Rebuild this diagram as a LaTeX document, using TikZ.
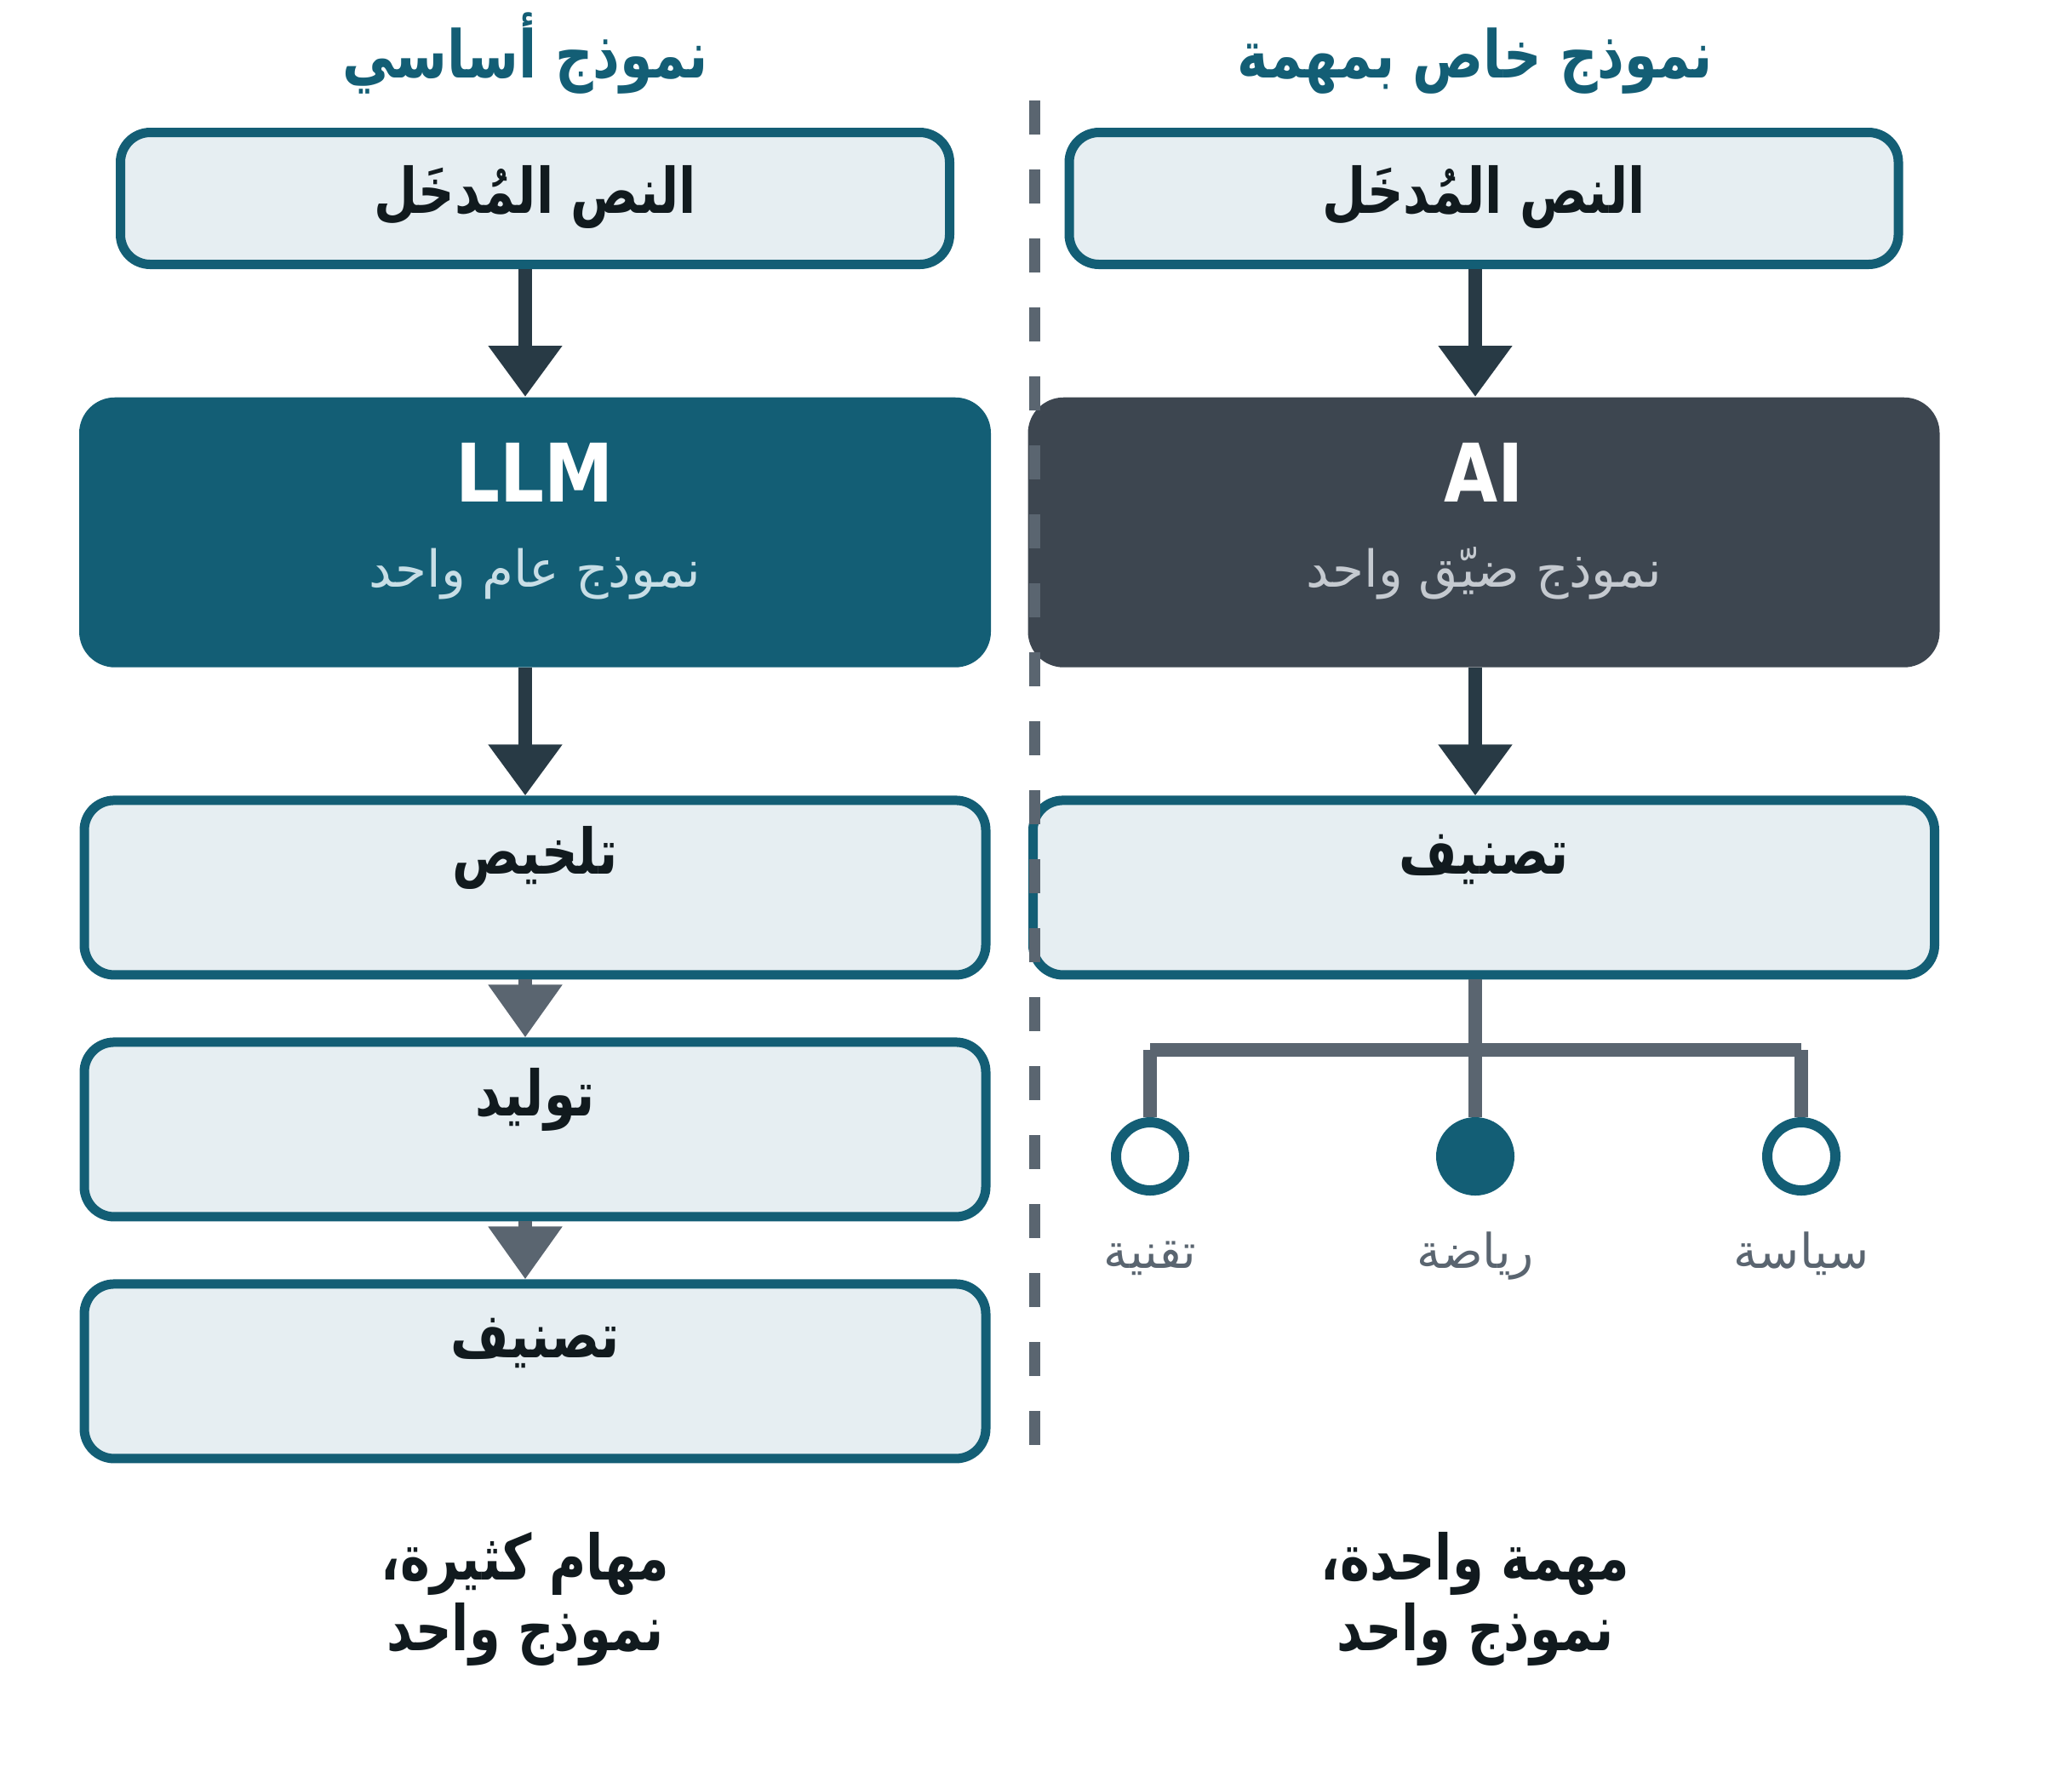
\documentclass[tikz,border=0pt]{standalone}
\usepackage{fontspec}
\setmainfont{DejaVu Sans}[BoldFeatures={FakeStretch=0.86}]
\newfontfamily\arabicfont[Script=Arabic, BoldFeatures={FakeStretch=0.8}]{DejaVu Sans}
\TeXXeTstate=1
\usetikzlibrary{positioning, arrows.meta}
\definecolor{deepteal}{HTML}{135E75}
\definecolor{paleblue}{HTML}{E6EEF2}
\definecolor{darkline}{HTML}{283A45}
\definecolor{slate}{HTML}{5A6570}
\definecolor{aibox}{HTML}{3D4650}
\definecolor{ink}{HTML}{111A1E}
\definecolor{llmsub}{HTML}{C8DEE6}
\definecolor{aisub}{HTML}{C5CAD0}
\newcommand{\artext}[1]{{\arabicfont\beginR #1\endR}}
\tikzset{
    inbox/.style   = {draw=deepteal, fill=paleblue, line width=0.11cm, rounded corners=0.35cm, minimum width=9.74cm, minimum height=1.55cm, inner sep=0pt, text=ink, font=\bfseries\fontsize{21}{25}\selectfont, text height=0.95cm, text depth=0.6cm},
    model/.style   = {rounded corners=0.42cm, minimum width=10.71cm, minimum height=3.17cm, inner sep=0pt, text=white, font=\bfseries\fontsize{27}{30}\selectfont, text height=1.23cm, text depth=1.94cm},
    task/.style    = {draw=deepteal, fill=paleblue, line width=0.11cm, rounded corners=0.35cm, minimum width=10.59cm, minimum height=2.05cm, inner sep=0pt, text=ink, font=\bfseries\fontsize{21}{25}\selectfont, text height=0.87cm, text depth=1.18cm},
    leaf/.style    = {circle, draw=deepteal, line width=0.12cm, fill=white, minimum size=0.8cm, inner sep=0pt},
    note/.style    = {font=\fontsize{17}{20}\selectfont, inner sep=0pt},
    heading/.style = {text=deepteal, font=\bfseries\fontsize{22}{26}\selectfont, inner sep=0pt},
    caption/.style = {text=ink, align=center, font=\bfseries\fontsize{21}{23.6}\selectfont, inner sep=0pt},
    tag/.style     = {text=slate, font=\fontsize{16}{19}\selectfont, inner sep=0pt},
    tip/.style     = {line width=0.16cm, draw=darkline, -{Triangle[width=0.83cm, length=0.6cm]}},
    softtip/.style = {line width=0.16cm, draw=slate, -{Triangle[width=0.83cm, length=0.62cm]}},
    branch/.style  = {line width=0.16cm, draw=slate},
    divider/.style = {line width=0.13cm, draw=slate, dash pattern=on 0.4cm off 0.41cm}
}

\begin{document}
\begin{tikzpicture}
    \useasboundingbox (0,0) rectangle (24.34,-21);
    \coordinate (colL) at (6.17,0);
    \coordinate (colR) at (17.33,0);
    % headings
    \node[heading, anchor=base] (headL) at (6.17,-0.91) {\artext{نموذج أساسي}};
    \node[heading, anchor=base] (headR) at (17.33,-0.91) {\artext{نموذج خاص بمهمة}};
    % left column
    \node[inbox] (inL) at (6.285,-2.33) {\artext{النص المُدخَل}};
    \node[model, fill=deepteal, below = 1.5cm of inL] (llm) {LLM};
    \node[note, text=llmsub, anchor=base] (llmnote) at ([yshift=-2.23cm]llm.north) {\artext{نموذج عام واحد}};
    \node[task, below = 1.5cm of llm]  (sumL) {\artext{تلخيص}};
    \node[task, below = 0.68cm of sumL] (genL) {\artext{توليد}};
    \node[task, below = 0.68cm of genL] (clsL) {\artext{تصنيف}};
    % right column
    \node[inbox] (inR) at (17.43,-2.33) {\artext{النص المُدخَل}};
    \node[model, fill=aibox, below = 1.5cm of inR] (ai) {AI};
    \node[note, text=aisub, anchor=base] (ainote) at ([yshift=-2.23cm]ai.north) {\artext{نموذج ضيّق واحد}};
    \node[task, below = 1.5cm of ai] (clsR) {\artext{تصنيف}};
    % divider
    \coordinate (divtop) at (12.15,-1.18);
    \coordinate (divbot) at (12.15,-16.97);
    \draw[divider] (divtop) -- (divbot);
    % arrows
    \draw[tip]     (inL.south -| colL)  -- (llm.north -| colL);
    \draw[tip]     (llm.south -| colL)  -- (sumL.north -| colL);
    \draw[softtip] (sumL.south -| colL) -- (genL.north -| colL);
    \draw[softtip] (genL.south -| colL) -- (clsL.north -| colL);
    \draw[tip]     (inR.south -| colR)  -- (ai.north -| colR);
    \draw[tip]     (ai.south -| colR)   -- (clsR.north -| colR);
    % classes
    \coordinate (hub) at (17.33,-12.33);
    \node[leaf] (tech) at (13.51,-13.58) {};
    \node[leaf, fill=deepteal] (sport) at (17.33,-13.58) {};
    \node[leaf] (pol) at (21.16,-13.58) {};
    \draw[branch] (clsR.south -| sport) -- (sport.north);
    \draw[branch] (tech |- hub) -- (pol |- hub);
    \draw[branch] (tech |- hub) -- (tech.north);
    \draw[branch] (pol |- hub)  -- (pol.north);
    \node[tag, anchor=base] (techtag)  at ([yshift=-0.85cm]tech.south)  {\artext{تقنية}};
    \node[tag, anchor=base] (sporttag) at ([yshift=-0.85cm]sport.south) {\artext{رياضة}};
    \node[tag, anchor=base] (poltag)   at ([yshift=-0.85cm]pol.south)   {\artext{سياسة}};
    % captions
    \node[caption] (capL) at (6.17,-18.78) {\artext{مهام كثيرة،}\\\artext{نموذج واحد}};
    \node[caption] (capR) at (17.33,-18.78) {\artext{مهمة واحدة،}\\\artext{نموذج واحد}};
\end{tikzpicture}
\end{document}
